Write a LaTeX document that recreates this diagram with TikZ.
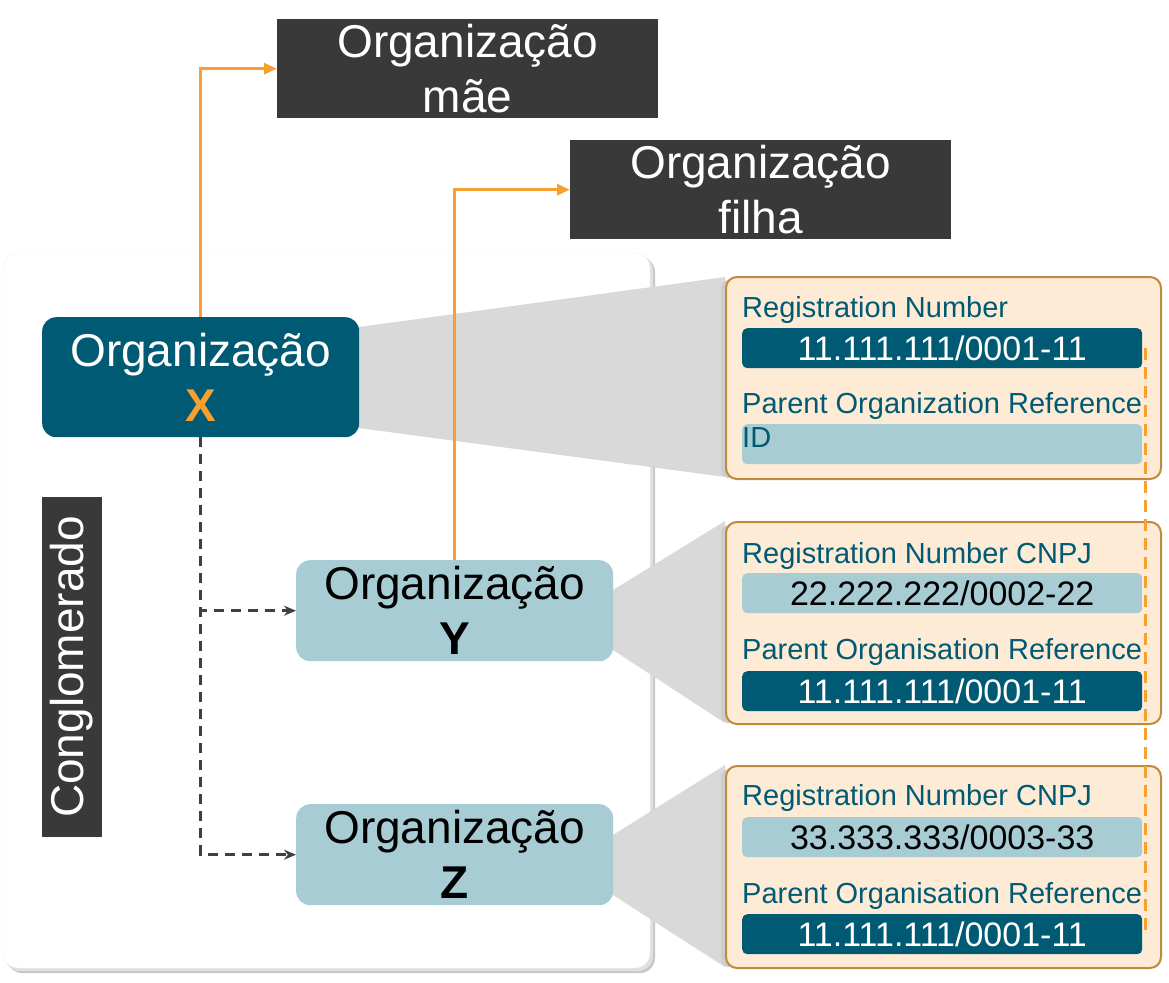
\documentclass[tikz,border=0pt]{standalone}
\usepackage{fontspec}
\setmainfont{Liberation Sans}
\usetikzlibrary{arrows.meta}
\definecolor{tealdark}{HTML}{005A73}
\definecolor{bluelight}{HTML}{A7CCD4}
\definecolor{charcoal}{HTML}{393939}
\definecolor{accent}{HTML}{F7A030}
\definecolor{peach}{HTML}{FDEBD6}
\definecolor{peachedge}{HTML}{C08A3E}
\definecolor{callout}{HTML}{D9D9D9}
\definecolor{dashgray}{HTML}{404040}
\newcommand{\bigtext}{\fontsize{46}{55}\selectfont}
\newcommand{\labeltext}{\fontsize{29}{33}\selectfont}
\newcommand{\valuetext}{\fontsize{34}{38}\selectfont}
\tikzset{
  title box/.style={fill=charcoal, text=white, font=\bigtext, align=center,
    inner sep=0pt, minimum width=381pt, minimum height=99pt, anchor=north west},
  org dark/.style={fill=tealdark, text=white, rounded corners=14pt, font=\bigtext,
    align=center, inner sep=0pt, minimum width=317pt, minimum height=120pt, anchor=north west},
  org light/.style={fill=bluelight, text=black, rounded corners=14pt, font=\bigtext,
    align=center, inner sep=0pt, minimum width=317pt, minimum height=101pt, anchor=north west},
  infopanel/.style={fill=peach, draw=peachedge, line width=2pt, rounded corners=11pt,
    inner sep=0pt, minimum width=435pt, minimum height=202pt, anchor=north west},
  fieldlabel/.style={text=tealdark, font=\labeltext, inner sep=0pt, anchor=base west},
  bar dark/.style={fill=tealdark, text=white, rounded corners=5pt, font=\valuetext,
    inner sep=0pt, minimum width=400pt, minimum height=40pt, anchor=north west},
  bar light/.style={fill=bluelight, text=black, rounded corners=5pt, font=\valuetext,
    inner sep=0pt, minimum width=400pt, minimum height=40pt, anchor=north west},
  link/.style={draw=accent, line width=3pt, -{Triangle[length=13pt,width=11pt]}},
  member/.style={draw=dashgray, line width=2.8pt, dash pattern=on 10pt off 7pt,
    -{Stealth[length=12pt,width=10pt]}},
}
\begin{document}
\begin{tikzpicture}[x=1pt,y=-1pt]
\useasboundingbox (0,0) rectangle (1169,982);

% conglomerate frame with its drop shadow
\fill[black!22, rounded corners=15pt] (7,257) rectangle (655,973);
\fill[black!12, rounded corners=15pt] (5,255) rectangle (653,971);
\fill[white, draw=black!6, rounded corners=15pt] (3,253) rectangle (650,968);

% grey call-out wedges linking each organisation to its record
\fill[callout] (359,327) -- (725,277) -- (725,477) -- (359,428) -- cycle;
\fill[callout] (613,590) -- (725,521) -- (725,723) -- (613,650) -- cycle;
\fill[callout] (613,835) -- (725,765) -- (725,967) -- (613,895) -- cycle;
\fill[black!20, rounded corners=8pt] (721,280) rectangle (735,478);
\fill[black!20, rounded corners=8pt] (721,525) rectangle (735,723);
\fill[black!20, rounded corners=8pt] (721,769) rectangle (735,967);

% title boxes
\node[title box] (mae) at (277,19) {Organização\\mãe};
\node[title box] (filha) at (570,140) {Organização\\filha};

% organisations
\node[org dark] (orgx) at (42,317) {Organização\\{\bfseries\color{accent}X}};
\node[org light] (orgy) at (296,560) {Organização\\{\bfseries Y}};
\node[org light] (orgz) at (296,804) {Organização\\{\bfseries Z}};

% side label
\node[fill=charcoal, text=white, font=\bigtext, rotate=90, inner sep=0pt,
  minimum width=340pt, minimum height=60pt] (cong) at (72,667) {Conglomerado};

% record of organisation X
\node[infopanel] (px) at (725,276) {};
\node[fieldlabel] (lx1) at (742,317) {Registration Number};
\node[bar dark] (vx1) at (742,328) {11.111.111/0001-11};
\node[fieldlabel] (lx2) at (742,413) {Parent Organization Reference};
\node[bar light] (vx2) at (742,424) {};
\node[fieldlabel] (idx) at (742,447) {ID};

% record of organisation Y
\node[infopanel] (py) at (725,521) {};
\node[fieldlabel] (ly1) at (742,563) {Registration Number CNPJ};
\node[bar light] (vy1) at (742,573) {22.222.222/0002-22};
\node[fieldlabel] (ly2) at (742,659) {Parent Organisation Reference};
\node[bar dark] (vy2) at (742,671) {11.111.111/0001-11};

% record of organisation Z
\node[infopanel] (pz) at (725,765) {};
\node[fieldlabel] (lz1) at (742,805) {Registration Number CNPJ};
\node[bar light] (vz1) at (742,817) {33.333.333/0003-33};
\node[fieldlabel] (lz2) at (742,903) {Parent Organisation Reference};
\node[bar dark] (vz2) at (742,914) {11.111.111/0001-11};

% connectors
\draw[link] (orgx.north) |- (mae.west);
\draw[link] (orgy.north) |- (filha.west);
\draw[member] (orgx.south) |- (orgy.west);
\draw[member] (orgx.south) |- (orgz.west);
\draw[accent, line width=2.6pt, dash pattern=on 12pt off 7pt]
  ([xshift=3pt]vx1.east) -- ([xshift=3pt]vz2.east);
\end{tikzpicture}
\end{document}
